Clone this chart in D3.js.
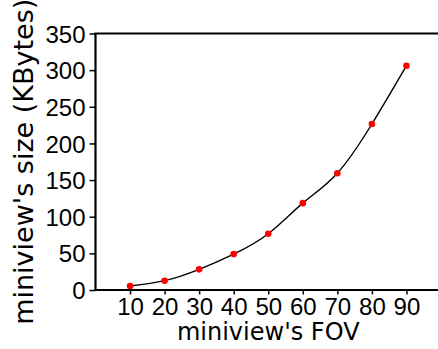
<!DOCTYPE html>
<html>
<head>
<meta charset="utf-8">
<script src="https://cdn.jsdelivr.net/npm/d3@7"></script>
<style>
  html, body { margin: 0; padding: 0; background: #fff; }
  svg { display: block; font-family: "DejaVu Sans", sans-serif; }
</style>
</head>
<body>
<svg id="chart" width="438" height="349"></svg>
<script>
// Miniview size as a function of its field of view
const fov = [10, 20, 30, 40, 50, 60, 70, 80, 90];
const sizeKB = [5.5, 12.7, 28.2, 49, 76.8, 118.5, 159.4, 226.5, 306];
const xTicks = [10, 20, 30, 40, 50, 60, 70, 80, 90];
const yTicks = [0, 50, 100, 150, 200, 250, 300, 350];

const W = 438, H = 349;
const m = { left: 95.5, top: 33.5, right: -3, bottom: 59 };

const svg = d3.select("#chart");

const x = d3.scaleLinear().domain([0, 100]).range([m.left, W - m.right]);
const y = d3.scaleLinear().domain([0, 350]).range([H - m.bottom, m.top]);

// spline through the measured points
const line = d3.line()
  .x((d, i) => x(fov[i]))
  .y(d => y(d))
  .curve(d3.curveNatural);

svg.append("path")
  .datum(sizeKB)
  .attr("d", line)
  .attr("fill", "none")
  .attr("stroke", "#000")
  .attr("stroke-width", 1.4);

svg.selectAll("circle.pt")
  .data(sizeKB)
  .enter().append("circle")
  .attr("class", "pt")
  .attr("cx", (d, i) => x(fov[i]))
  .attr("cy", d => y(d))
  .attr("r", 3.3)
  .attr("fill", "#ff0000");

// axes
const xAxis = d3.axisBottom(x).tickValues(xTicks).tickSize(4.5).tickPadding(3).tickFormat(d3.format("d"));
const yAxis = d3.axisLeft(y).tickValues(yTicks).tickSize(6).tickPadding(4).tickFormat(d3.format("d"));

const gx = svg.append("g").attr("transform", `translate(0,${H - m.bottom})`).call(xAxis);
const gy = svg.append("g").attr("transform", `translate(${m.left},0)`).call(yAxis);

[gx, gy].forEach(g => {
  g.select(".domain").remove();
  g.selectAll(".tick line").attr("stroke", "#000").attr("stroke-width", 1.5);
  g.selectAll(".tick text").attr("fill", "#000").style("font-size", "24px");
});
gy.selectAll(".tick text").attr("dy", "0.36em");

// spines: left, bottom, top (right one lies past the edge)
const spine = svg.append("g").attr("stroke", "#000").attr("stroke-width", 2.2).attr("fill", "none");
spine.append("line").attr("x1", m.left).attr("x2", m.left).attr("y1", m.top).attr("y2", H - m.bottom);
spine.append("line").attr("x1", m.left - 1.1).attr("x2", W - m.right).attr("y1", H - m.bottom).attr("y2", H - m.bottom);
spine.append("line").attr("x1", m.left - 1.1).attr("x2", W - m.right).attr("y1", m.top).attr("y2", m.top);
spine.append("line").attr("x1", W - m.right).attr("x2", W - m.right).attr("y1", m.top).attr("y2", H - m.bottom);

// axis titles
svg.append("text")
  .attr("x", (m.left + W - m.right) / 2)
  .attr("y", 340)
  .attr("text-anchor", "middle")
  .style("font-size", "24px")
  .text("miniview's FOV");

svg.append("text")
  .attr("transform", `translate(33,${(m.top + H - m.bottom) / 2}) rotate(-90)`)
  .attr("text-anchor", "middle")
  .style("font-size", "27px")
  .text("miniview's size (KBytes)");
</script>
</body>
</html>
